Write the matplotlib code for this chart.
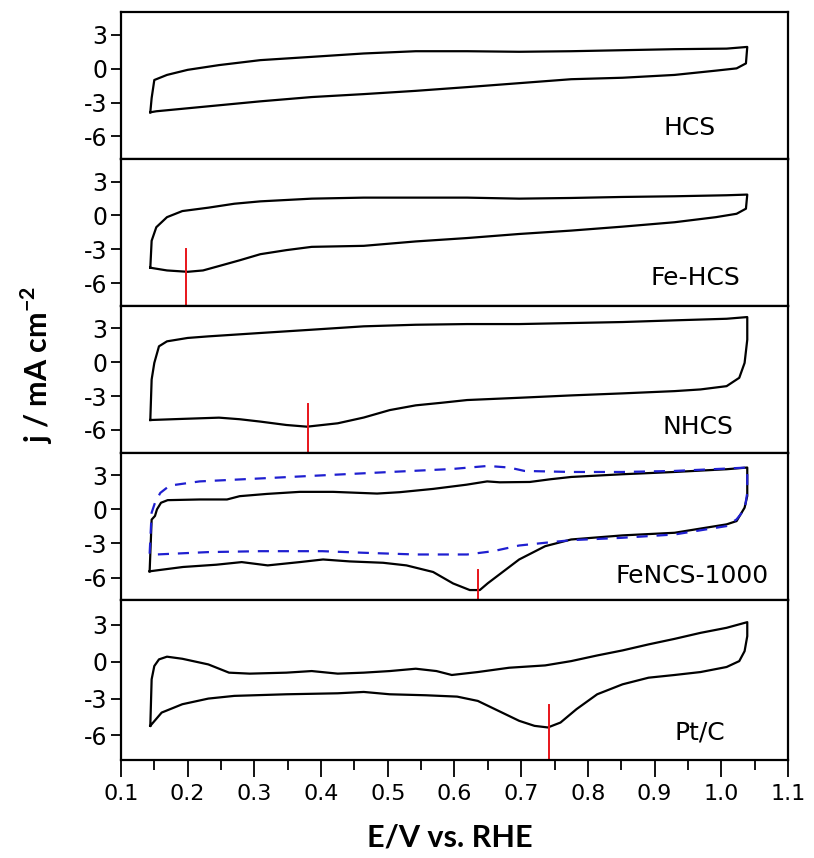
import numpy as np
import matplotlib.pyplot as plt
from matplotlib.ticker import MultipleLocator

plt.rcParams['font.family'] = ['DejaVu Sans']

# Voltamogramas (E / V vs RHE, j / mA cm-2), lazo cerrado: barrido anodico y vuelta catodica
hcs_E = [0.144, 0.146, 0.150, 0.169, 0.200, 0.247, 0.309, 0.386, 0.464, 0.542, 0.619,
         0.697, 0.775, 0.852, 0.930, 1.008, 1.039, 1.037, 1.023, 0.992, 0.930, 0.852,
         0.775, 0.697, 0.619, 0.542, 0.464, 0.386, 0.309, 0.231, 0.153, 0.144]
hcs_j = [-3.86, -2.6, -1.0, -0.55, -0.1, 0.32, 0.76, 1.05, 1.35, 1.55, 1.55,
         1.50, 1.55, 1.64, 1.73, 1.78, 1.93, 0.47, 0.03, -0.17, -0.55, -0.80,
         -0.93, -1.28, -1.63, -1.96, -2.25, -2.51, -2.89, -3.33, -3.77, -3.86]

fehcs_E = [0.144, 0.146, 0.153, 0.169, 0.192, 0.231, 0.270, 0.309, 0.386, 0.464, 0.542,
           0.619, 0.697, 0.775, 0.852, 0.930, 1.008, 1.039, 1.037, 1.023, 0.992, 0.930,
           0.852, 0.775, 0.697, 0.619, 0.542, 0.464, 0.386, 0.348, 0.309, 0.278,
           0.247, 0.223, 0.200, 0.169, 0.144]
fehcs_j = [-4.63, -2.24, -1.04, -0.15, 0.39, 0.69, 1.04, 1.25, 1.49, 1.58, 1.58,
           1.58, 1.49, 1.55, 1.64, 1.70, 1.79, 1.85, 0.60, 0.15, -0.15, -0.60,
           -0.99, -1.34, -1.64, -2.00, -2.30, -2.69, -2.78, -3.07, -3.43, -3.97,
           -4.48, -4.87, -4.99, -4.87, -4.63]

nhcs_E = [0.144, 0.146, 0.150, 0.157, 0.169, 0.200, 0.231, 0.309, 0.386, 0.464, 0.542,
          0.619, 0.697, 0.775, 0.852, 0.930, 1.008, 1.039, 1.039, 1.035, 1.027, 1.008,
          0.969, 0.930, 0.852, 0.775, 0.697, 0.619, 0.581, 0.542, 0.503, 0.464,
          0.425, 0.379, 0.348, 0.309, 0.278, 0.247, 0.192, 0.144]
nhcs_j = [-5.12, -1.53, -0.06, 1.41, 1.85, 2.15, 2.29, 2.59, 2.88, 3.18, 3.32,
          3.38, 3.38, 3.47, 3.56, 3.71, 3.85, 4.00, 2.00, -0.06, -1.38, -2.12,
          -2.41, -2.56, -2.76, -2.94, -3.15, -3.35, -3.59, -3.82, -4.24, -4.90,
          -5.41, -5.71, -5.56, -5.26, -5.05, -4.91, -5.02, -5.12]

fencs_E = [0.143, 0.146, 0.151, 0.154, 0.160, 0.170, 0.218, 0.259, 0.278, 0.319, 0.368,
           0.418, 0.484, 0.518, 0.568, 0.618, 0.649, 0.668, 0.713, 0.744, 0.775,
           0.852, 0.930, 1.008, 1.039, 1.039, 1.035, 1.023, 1.008, 0.930, 0.852,
           0.775, 0.736, 0.697, 0.668, 0.650, 0.638, 0.623, 0.598, 0.568, 0.528,
           0.493, 0.443, 0.403, 0.368, 0.320, 0.281, 0.243, 0.193, 0.143]
fencs_j = [-5.45, -0.90, -0.58, 0.00, 0.58, 0.81, 0.87, 0.87, 1.16, 1.36, 1.54,
           1.54, 1.39, 1.51, 1.80, 2.17, 2.46, 2.38, 2.41, 2.65, 2.85,
           3.09, 3.29, 3.53, 3.68, 1.18, 0.15, -1.03, -1.32, -2.06, -2.29,
           -2.65, -3.24, -4.41, -5.70, -6.50, -7.10, -7.10, -6.52, -5.51, -4.93,
           -4.70, -4.58, -4.41, -4.64, -4.93, -4.64, -4.87, -5.07, -5.45]

# FeNCS-1000, curva discontinua azul
fencs2_E = [0.143, 0.146, 0.151, 0.159, 0.173, 0.218, 0.319, 0.418, 0.518, 0.596,
            0.650, 0.682, 0.705, 0.775, 0.852, 0.930, 1.008, 1.039, 1.039, 1.035, 1.023,
            1.008, 0.930, 0.852, 0.775, 0.736, 0.697, 0.658, 0.619, 0.542, 0.464,
            0.402, 0.309, 0.231, 0.153, 0.143]
fencs2_j = [-3.90, -0.29, 0.58, 1.45, 2.09, 2.46, 2.75, 3.04, 3.33, 3.55,
            3.82, 3.68, 3.38, 3.29, 3.29, 3.38, 3.59, 3.68, 1.47, 0.00, -0.88,
            -1.47, -2.21, -2.50, -2.71, -2.94, -3.18, -3.68, -3.97, -3.97, -3.82,
            -3.68, -3.68, -3.76, -3.97, -3.90]

ptc_E = [0.144, 0.146, 0.150, 0.157, 0.169, 0.192, 0.231, 0.262, 0.293, 0.348, 0.386,
         0.425, 0.464, 0.503, 0.542, 0.573, 0.596, 0.635, 0.682, 0.736, 0.775, 0.814,
         0.852, 0.891, 0.930, 0.969, 1.008, 1.039, 1.039, 1.035, 1.027, 1.008, 0.969,
         0.930, 0.891, 0.852, 0.814, 0.783, 0.759, 0.740, 0.720, 0.697, 0.666, 0.635,
         0.604, 0.557, 0.503, 0.464, 0.425, 0.348, 0.270, 0.231, 0.192, 0.161, 0.144]
ptc_j = [-5.22, -1.43, -0.35, 0.19, 0.41, 0.24, -0.22, -0.89, -0.97, -0.89, -0.76,
         -0.97, -0.89, -0.76, -0.57, -0.76, -1.08, -0.84, -0.49, -0.30, 0.05, 0.51,
         0.92, 1.41, 1.86, 2.35, 2.76, 3.22, 2.08, 0.86, 0.05, -0.43, -0.84,
         -1.08, -1.30, -1.84, -2.65, -3.86, -4.95, -5.35, -5.22, -4.81, -4.00, -3.19,
         -2.84, -2.73, -2.65, -2.46, -2.57, -2.65, -2.78, -3.00, -3.46, -4.14, -5.22]

panel_names = ["HCS", "Fe-HCS", "NHCS", "FeNCS-1000", "Pt/C"]
panel_E = [hcs_E, fehcs_E, nhcs_E, fencs_E, ptc_E]
panel_j = [hcs_j, fehcs_j, nhcs_j, fencs_j, ptc_j]

# Marcas rojas del pico de reduccion (E, j de inicio)
peak_E = [None, 0.198, 0.380, 0.635, 0.741]
peak_top = [None, -3.0, -3.74, -5.3, -3.54]

# posicion de las etiquetas de cada panel (fraccion de ejes)
name_x = [0.853, 0.861, 0.865, 0.856, 0.868]
name_y = [0.21, 0.19, 0.176, 0.163, 0.17]

y_ticks = [-6, -3, 0, 3]
x_ticks = [0.1, 0.2, 0.3, 0.4, 0.5, 0.6, 0.7, 0.8, 0.9, 1.0, 1.1]

fig = plt.figure(figsize=(8.14, 8.58), dpi=100)
gs = fig.add_gridspec(5, 1, height_ratios=[147, 147, 147, 148, 160], hspace=0,
                      left=0.1486, right=0.968, top=0.9857, bottom=0.1142)

for i in range(5):
    ax = fig.add_subplot(gs[i])
    ax.plot(panel_E[i], panel_j[i], color="black", lw=1.6)
    if i == 3:
        ax.plot(fencs2_E, fencs2_j, color="#1f1fd0", lw=1.6, ls=(0, (5, 4)))
    if peak_E[i] is not None:
        ax.plot([peak_E[i], peak_E[i]], [peak_top[i], -8], color="#e8141a", lw=1.4)
    ax.set_xlim(0.1, 1.1)
    ax.set_ylim(-8, 5)
    ax.set_yticks(y_ticks)
    ax.set_yticklabels([str(t) for t in y_ticks], fontsize=17)
    ax.tick_params(axis="y", direction="out", length=7, width=1.3, pad=3)
    ax.text(name_x[i], name_y[i], panel_names[i], transform=ax.transAxes,
            ha="center", va="center", fontsize=18)
    for s in ax.spines.values():
        s.set_linewidth(1.6)
    if i == 0:
        ax.xaxis.set_major_locator(MultipleLocator(0.2))
        ax.xaxis.set_minor_locator(MultipleLocator(0.1))
        ax.tick_params(axis="x", which="major", direction="out", length=10, width=1.3,
                       labelbottom=False)
        ax.tick_params(axis="x", which="minor", direction="out", length=5, width=1.3)
    elif i < 4:
        ax.xaxis.set_major_locator(MultipleLocator(0.1))
        ax.tick_params(axis="x", which="major", direction="out", length=11, width=1.3,
                       labelbottom=False)
    else:
        ax.set_xticks(x_ticks)
        ax.set_xticklabels(["%.1f" % t for t in x_ticks], fontsize=16)
        ax.xaxis.set_minor_locator(MultipleLocator(0.05))
        ax.tick_params(axis="x", which="major", direction="out", length=12, width=1.3, pad=5)
        ax.tick_params(axis="x", which="minor", direction="out", length=7, width=1.3)

fig.text(0.553, 1 - 838 / 858, "E/V vs. RHE", ha="center", va="center",
         fontsize=22, fontweight="bold", family=["Lato", "DejaVu Sans"])
fig.text(0.045, 0.575, "j / mA cm$^{\\mathregular{-2}}$", rotation=90, ha="center", va="center",
         fontsize=22, fontweight="bold", family=["Lato", "DejaVu Sans"])

fig.savefig("out.png", dpi=100)
